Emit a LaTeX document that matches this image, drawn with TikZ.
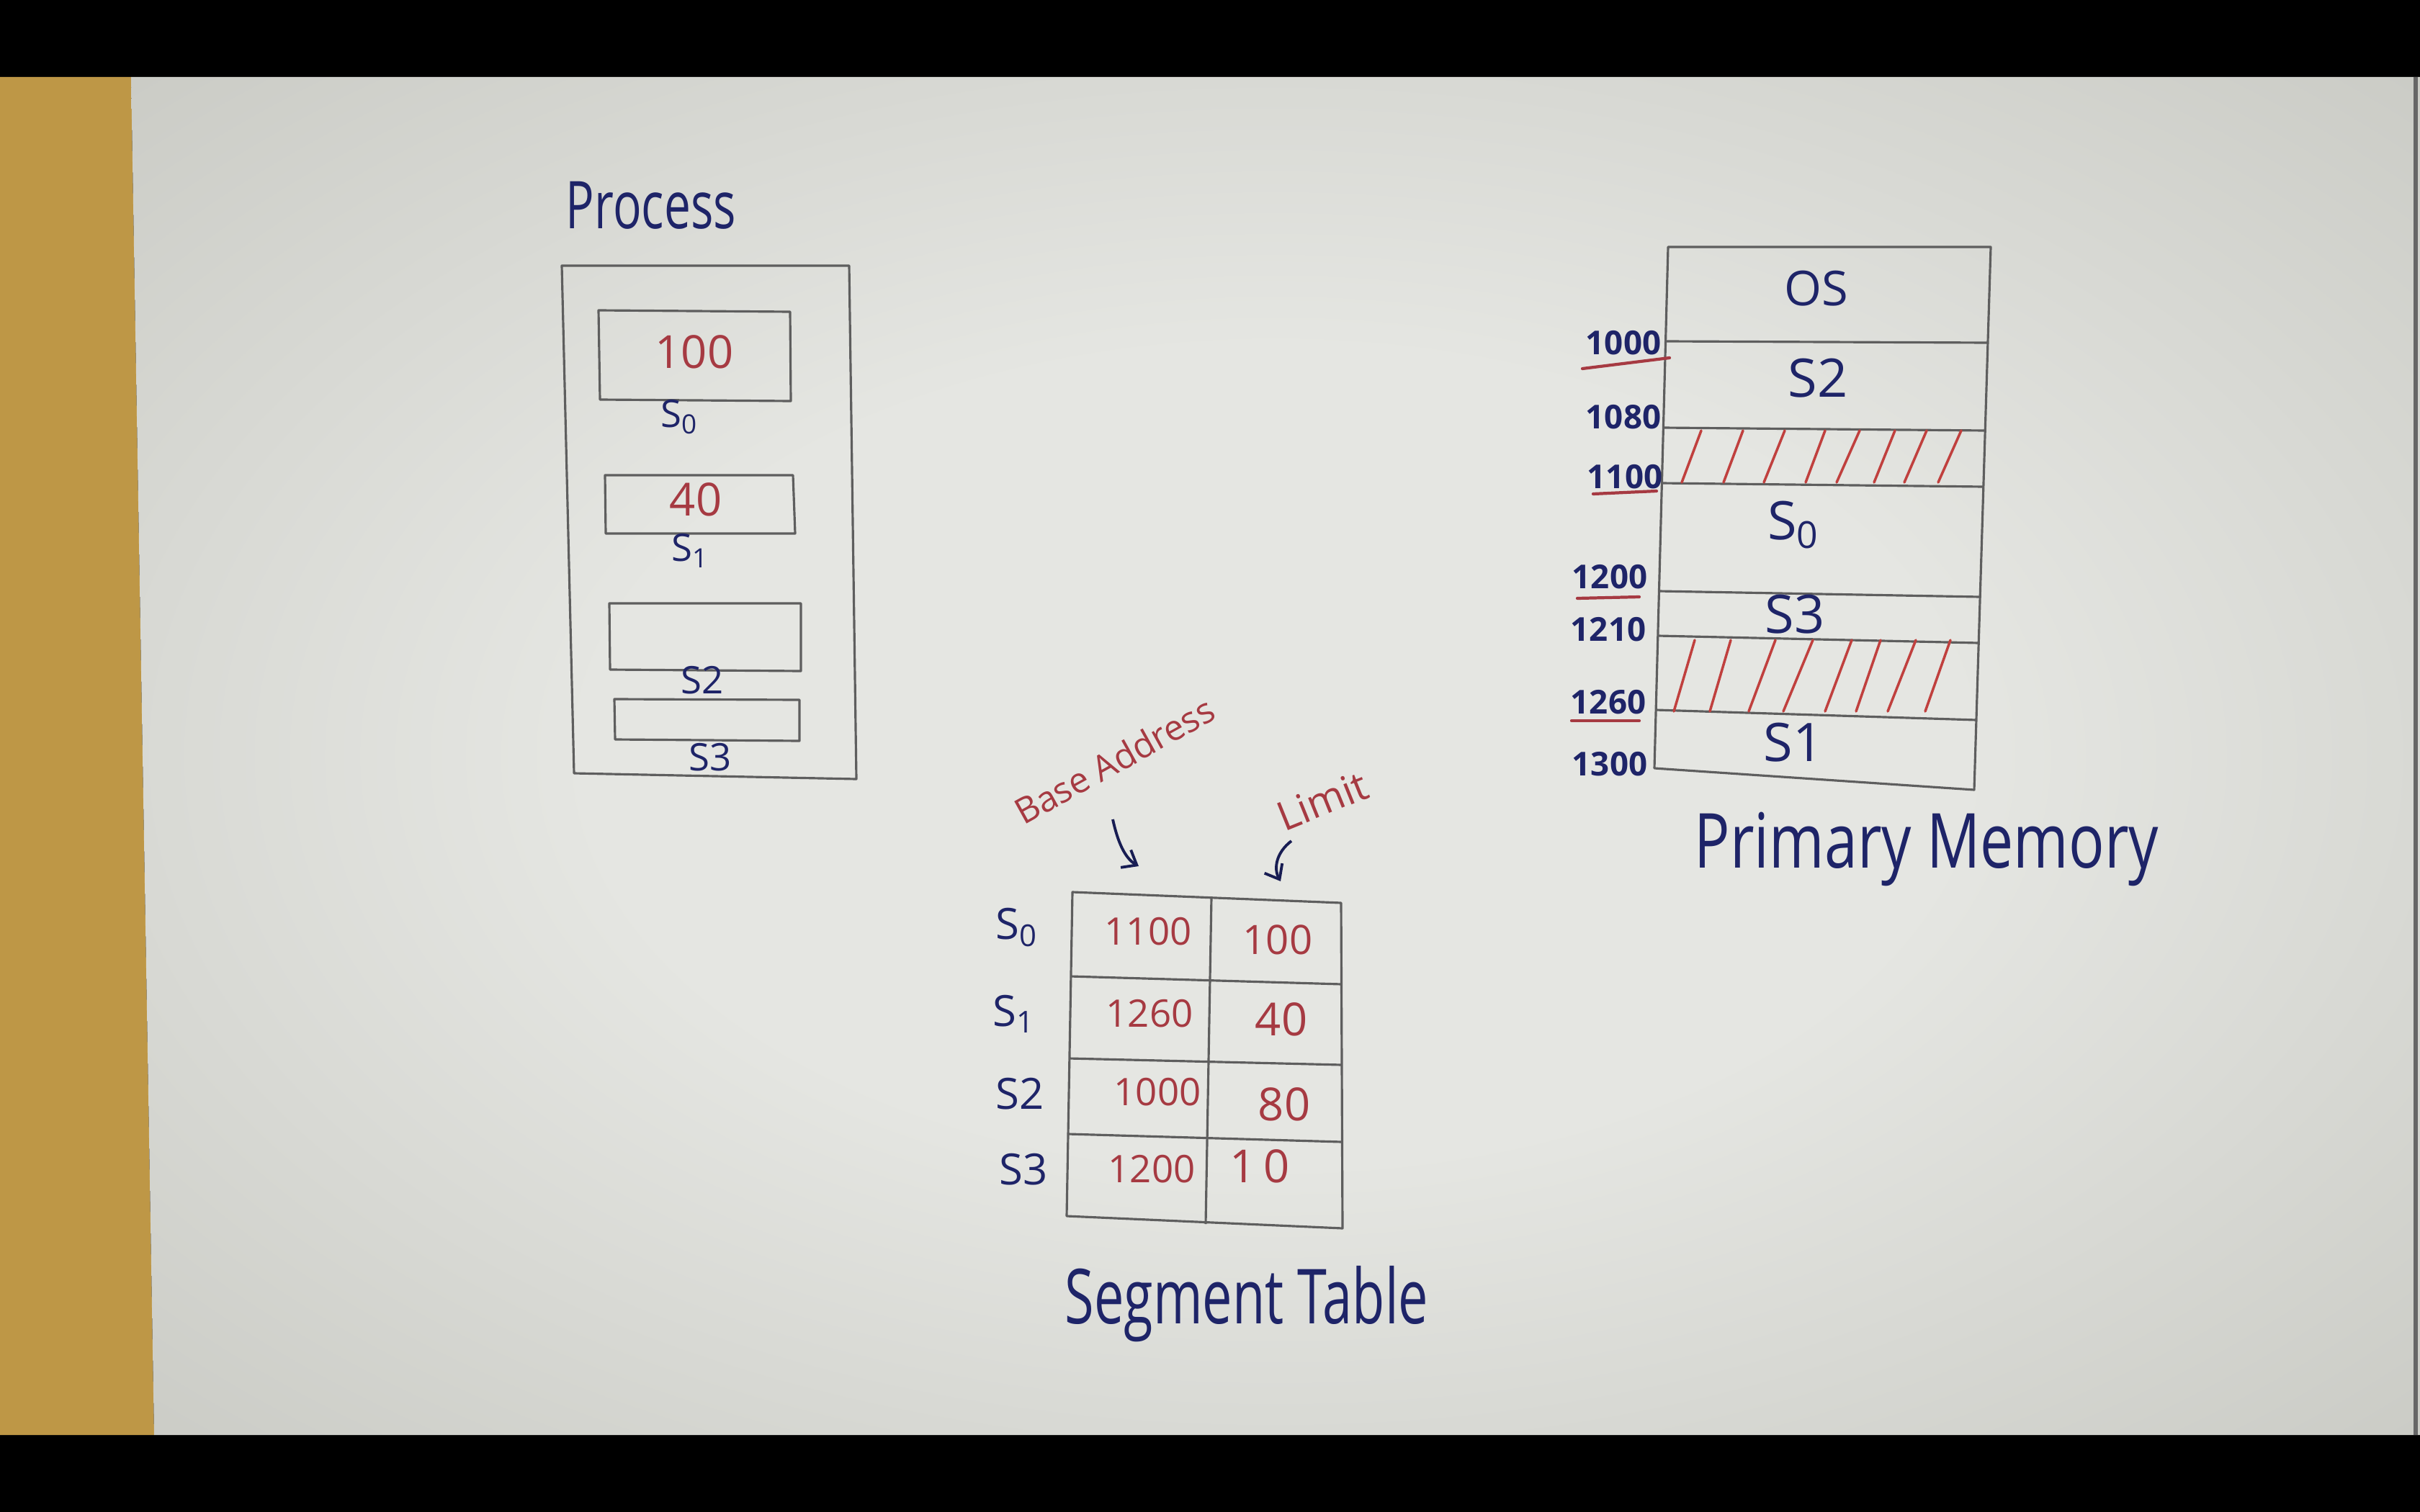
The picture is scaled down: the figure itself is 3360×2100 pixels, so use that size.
\documentclass[tikz,border=0pt]{standalone}
\usepackage{fontspec}
\newfontfamily\hand{Open Sans}
\usetikzlibrary{arrows.meta}
\definecolor{paperc}{HTML}{E5E6E2}
\definecolor{paperedge}{HTML}{D8D9D4}
\definecolor{paperdark}{HTML}{CACBC5}
\definecolor{ochre}{HTML}{BE9746}
\definecolor{pencil}{HTML}{5E5E5E}
\definecolor{ink}{HTML}{1E2468}
\definecolor{redink}{HTML}{A63A42}
\definecolor{hatchc}{HTML}{C0403E}
\pgfdeclareradialshading{paperv}{\pgfpoint{0bp}{0bp}}{color(0bp)=(paperc); color(15bp)=(paperc); color(25bp)=(paperedge); color(36bp)=(paperdark); color(50bp)=(paperdark)}
\begin{document}
\begin{tikzpicture}[x=0.01cm,y=-0.01cm,
  pline/.style={draw=pencil,line width=0.9pt,line join=round},
  hatchline/.style={draw=hatchc,line width=1pt,line cap=round},
  inktxt/.style={text=ink,inner sep=0pt,font=\hand\fontsize{#1}{#1}\selectfont},
  redtxt/.style={text=redink,inner sep=0pt,font=\hand\fontsize{#1}{#1}\selectfont},
  addr/.style={text=ink,inner sep=0pt,font=\hand\bfseries\fontsize{13}{13}\selectfont},
  handarrow/.style={draw=ink!80!black,line width=1.1pt,-{Straight Barb[length=5pt,width=8pt]}},
  redunder/.style={draw=redink,line width=1.2pt,line cap=round}]
% background
\fill[black] (0,0) rectangle (3360,2100);
\fill[ochre] (0,107) -- (182,107) -- (214,1993) -- (0,1993) -- cycle;
\shade[shading=paperv] (182,107) -- (3360,107) -- (3360,1993) -- (214,1993) -- cycle;
\draw[draw=black!60,line width=1.5pt] (3354,107) -- (3354,1993);
\useasboundingbox (0,0) rectangle (3360,2100);

% ---------------- Process ----------------
\node[inktxt=26,xscale=0.72] (proc) at (904,285) {Process};
\draw[pline] (780,369) -- (1179,369) -- (1189,1082) -- (797,1074) -- cycle;
\draw[pline] (831,431) -- (1097,433) -- (1098,557) -- (833,555) -- cycle;
\node[redtxt=18] (p100) at (964,489) {100};
\node[inktxt=15] (ps0) at (943,579) {S\textsubscript{0}};
\draw[pline] (840,660) -- (1101,660) -- (1104,741) -- (841,741) -- cycle;
\node[redtxt=18] (p40) at (966,694) {40};
\node[inktxt=15] (ps1) at (958,765) {S\textsubscript{1}};
\draw[pline] (846,838) -- (1112,838) -- (1112,932) -- (847,930) -- cycle;
\node[inktxt=15] (ps2) at (975,945) {S2};
\draw[pline] (853,971) -- (1110,972) -- (1110,1029) -- (854,1027) -- cycle;
\node[inktxt=15] (ps3) at (986,1052) {S3};

% ---------------- Primary memory ----------------
\draw[pline] (2316,343) -- (2764,343) -- (2741,1097) -- (2297,1067) -- cycle;
\draw[pline] (2313,474) -- (2760,476);
\draw[pline] (2309,594) -- (2756,598);
\draw[pline] (2307,671) -- (2754,676);
\draw[pline] (2303,821) -- (2749,829);
\draw[pline] (2302,883) -- (2747,893);
\draw[pline] (2299,986) -- (2744,1000);
% hatching
\foreach \b/\t in {2335/2362,2393/2420,2449/2478,2507/2534,2550/2582,2602/2631,2644/2675,2691/2723}
  \draw[hatchline] (\b,670) -- (\t,598);
\foreach \b/\t in {2324/2353,2374/2403,2428/2465,2476/2517,2534/2571,2577/2611,2621/2660,2673/2708}
  \draw[hatchline] (\b,988) -- (\t,889);
\node[inktxt=19] (mos) at (2522,401) {OS};
\node[inktxt=21] (ms2) at (2524,525) {S2};
\node[inktxt=21] (ms0) at (2490,729) {S\textsubscript{0}};
\node[inktxt=21] (ms3) at (2492,853) {S3};
\node[inktxt=21] (ms1) at (2490,1031) {S1};
% addresses
\node[addr] (a1000) at (2254,476) {1000};
\node[addr] (a1080) at (2254,579) {1080};
\node[addr] (a1100) at (2256,662) {1100};
\node[addr] (a1200) at (2235,801) {1200};
\node[addr] (a1210) at (2233,874) {1210};
\node[addr] (a1260) at (2233,975) {1260};
\node[addr] (a1300) at (2235,1061) {1300};
\draw[redunder] (2197,512) -- (2318,497);
\draw[redunder] (2212,686) -- (2300,682);
\draw[redunder] (2190,831) -- (2276,829);
\draw[redunder] (2182,1001) -- (2276,1001);
\node[inktxt=30,xscale=0.78] (pm) at (2675,1179) {Primary Memory};

% ---------------- Segment table ----------------
\draw[pline] (1489,1239) -- (1862,1254) -- (1864,1706) -- (1481,1689) -- cycle;
\draw[pline] (1682,1246) -- (1674,1700);
\draw[pline] (1486,1356) -- (1863,1367);
\draw[pline] (1484,1470) -- (1863,1479);
\draw[pline] (1483,1575) -- (1863,1586);
\node[redtxt=15] (t11) at (1594,1294) {1100};
\node[redtxt=16] (t12) at (1774,1305) {100};
\node[redtxt=15] (t21) at (1596,1408) {1260};
\node[redtxt=18] (t22) at (1779,1416) {40};
\node[redtxt=15] (t31) at (1607,1517) {1000};
\node[redtxt=18] (t32) at (1783,1534) {80};
\node[redtxt=15] (t41) at (1599,1624) {1200};
\node[redtxt=18] (t42) at (1749,1620) {1\,0};
\node[inktxt=17] (r0) at (1412,1288) {S\textsubscript{0}};
\node[inktxt=17] (r1) at (1408,1408) {S\textsubscript{1}};
\node[inktxt=17] (r2) at (1416,1519) {S2};
\node[inktxt=17] (r3) at (1421,1624) {S3};
\node[redtxt=14,rotate=29] (base) at (1547,1056) {Base Address};
\node[redtxt=16,rotate=22] (limit) at (1836,1112) {Limit};
\coordinate (baseS) at (1545,1138);
\coordinate (baseE) at (1581,1203);
\coordinate (limS) at (1793,1168);
\coordinate (limE) at (1778,1224);
\draw[handarrow] (baseS) .. controls (1552,1170) and (1562,1192) .. (baseE);
\draw[handarrow] (limS) .. controls (1772,1184) and (1768,1206) .. (limE);
\node[inktxt=30,xscale=0.7] (seg) at (1731,1811) {Segment Table};
\end{tikzpicture}
\end{document}
